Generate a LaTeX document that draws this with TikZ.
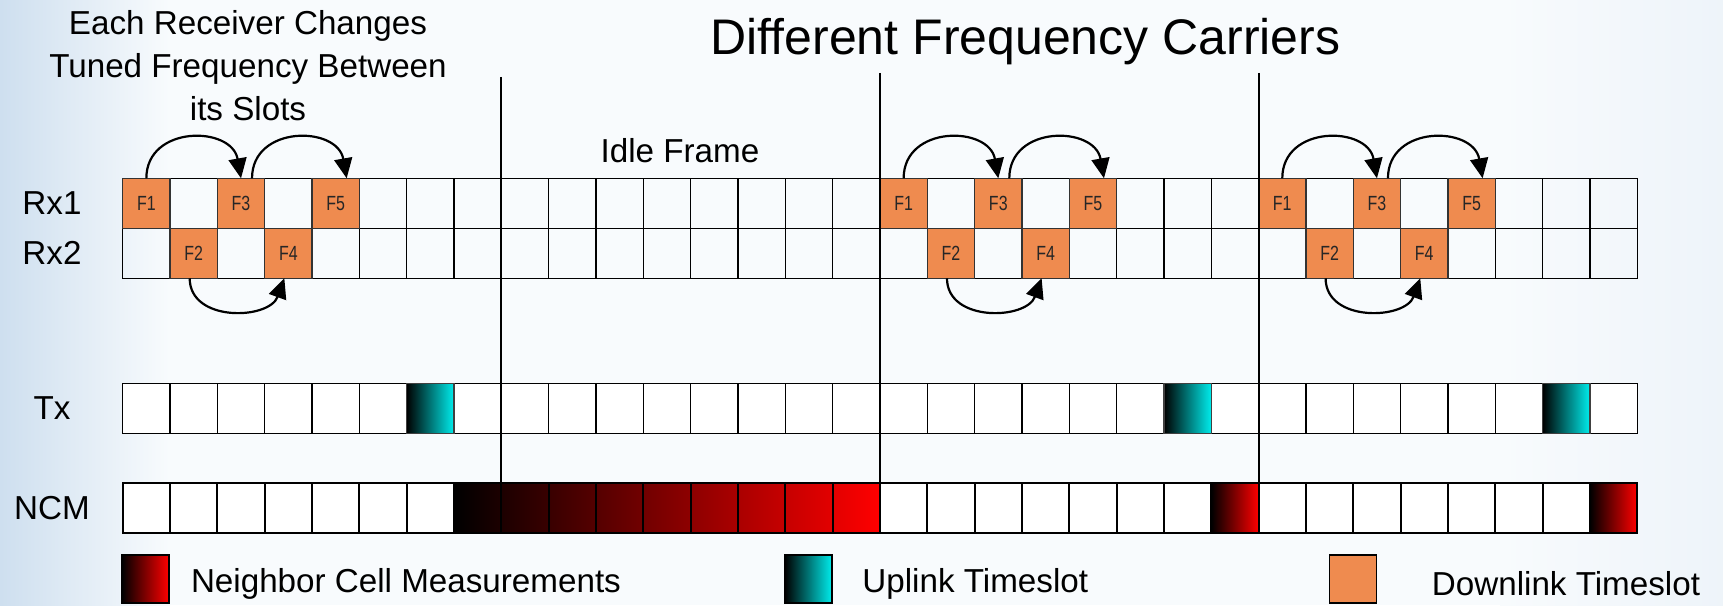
\documentclass[tikz,border=0pt]{standalone}
\usepackage{fontspec}
\setmainfont{Liberation Sans}
\newfontfamily\narrowsans[FakeStretch=0.78]{Liberation Sans}
\usetikzlibrary{positioning, arrows.meta, backgrounds}
\definecolor{dlorange}{RGB}{239,139,79}
\definecolor{ulcyan}{RGB}{0,236,236}
\definecolor{ncmred}{RGB}{255,0,0}
\definecolor{paper}{RGB}{248,251,253}
\definecolor{haze}{RGB}{206,223,239}
\pgfdeclarelayer{paperlayer}
\pgfsetlayers{paperlayer,background,main}
\tikzset{
  cell/.style ={draw, line width=0.65pt, minimum width=23.67pt, minimum height=25pt,
                inner sep=0pt, outer sep=0pt},
  dl/.style   ={cell, fill=dlorange, draw=black!80, text=black!85,
                font=\narrowsans\fontsize{10.25}{12}\selectfont},
  ul/.style   ={cell, left color=black, right color=ulcyan, draw=black!75},
  ncm/.style  ={cell, line width=1pt},
  key/.style  ={cell, minimum width=23.5pt, minimum height=24pt, line width=0.8pt},
  lbl/.style  ={font=\fontsize{16.6}{21.5}\selectfont, align=center, inner sep=0pt},
  hop/.style  ={-{Triangle[length=10pt, width=9pt]}, line width=1.1pt},
  sep/.style  ={line width=1pt},
}

\begin{document}
\begin{tikzpicture}[x=0.5pt, y=0.5pt]
  \useasboundingbox (0,0) rectangle (1723,605);
  \begin{pgfonlayer}{paperlayer}
    \fill[paper] (0,0) rectangle (1723,605);
    \shade[left color=haze, right color=paper] (0,0) rectangle (170,605);
    \shade[left color=paper, right color=haze!35] (1500,0) rectangle (1723,605);
  \end{pgfonlayer}

  % slot grid: 4 frames of 8 slots
  \foreach \i in {0,...,31}{
    \pgfmathsetmacro\cx{122.7+(\i+0.5)*47.33}
    \node[cell] (rxa-\i) at (\cx,401.7) {};
    \node[cell] (rxb-\i) at (\cx,351.7) {};
    \node[cell, fill=white] (tx-\i) at (\cx,196.7) {};
    \node[ncm] (ncm-\i) at (\cx,96.7) {};
  }
  \begin{scope}[on background layer]
    \fill[white] (ncm-0.south west) rectangle (ncm-31.north east);
    \shade[left color=black, right color=ncmred] (ncm-7.south west) rectangle (ncm-15.north east);
    \shade[left color=black, right color=ncmred] (ncm-23.south west) rectangle (ncm-23.north east);
    \shade[left color=black, right color=ncmred] (ncm-31.south west) rectangle (ncm-31.north east);
  \end{scope}

  % downlink hops and uplink slot per active frame
  \foreach \o in {0,16,24}{
    \pgfmathtruncatemacro\sb{\o+1}
    \pgfmathtruncatemacro\sc{\o+2}
    \pgfmathtruncatemacro\sd{\o+3}
    \pgfmathtruncatemacro\se{\o+4}
    \pgfmathtruncatemacro\sg{\o+6}
    \node[dl] (F1-\o) at (rxa-\o)  {F1};
    \node[dl] (F2-\o) at (rxb-\sb) {F2};
    \node[dl] (F3-\o) at (rxa-\sc) {F3};
    \node[dl] (F4-\o) at (rxb-\sd) {F4};
    \node[dl] (F5-\o) at (rxa-\se) {F5};
    \node[ul] (up-\o) at (tx-\sg) {};
    \draw[hop] (F1-\o.north) to[out=90, in=100, looseness=1.45] (F3-\o.north);
    \draw[hop] ([xshift=5.5pt]F3-\o.north) to[out=90, in=100, looseness=1.45] ([xshift=5.5pt]F5-\o.north);
    \draw[hop] ([xshift=-2pt]F2-\o.south) to[out=-90, in=-110, looseness=1.2] ([xshift=-2pt]F4-\o.south);
  }

  % frame boundaries
  \coordinate (top1) at (ncm-8.north west |- 0,528);
  \coordinate (top2) at (ncm-16.north west |- 0,532);
  \coordinate (top3) at (ncm-24.north west |- 0,532);
  \draw[sep] (top1) -- (ncm-8.north west);
  \draw[sep] (top2) -- (ncm-16.north west);
  \draw[sep] (top3) -- (ncm-24.north west);

  \node[lbl, font=\fontsize{25}{30}\selectfont, anchor=base] (title) at (1025.5,550) {Different Frequency Carriers};
  \node[lbl] (note) at (248,539.5) {Each Receiver Changes\\Tuned Frequency Between\\its Slots};
  \node[lbl, anchor=base] (idle) at (680,442) {Idle Frame};

  \node[lbl] (lrxa) at (52,401.7) {Rx1};
  \node[lbl] (lrxb) at (52,351.7) {Rx2};
  \node[lbl] (ltx)  at (52,196.7) {Tx};
  \node[lbl] (lncm) at (52,96.7)  {NCM};

  % legend
  \node[key, left color=black, right color=ncmred] (keyncm) at (145.5,26) {};
  \node[key, left color=black, right color=ulcyan] (keyul) at (808.5,26) {};
  \node[key, fill=dlorange] (keydl) at (1353,26) {};
  \node[lbl, right=10.8pt of keyncm, yshift=-2.5pt] (txtncm) {Neighbor Cell Measurements};
  \node[lbl, right=15pt of keyul, yshift=-2.5pt] (txtul) {Uplink Timeslot};
  \node[lbl, right=27.5pt of keydl, yshift=-2.5pt] (txtdl) {Downlink Timeslot};
\end{tikzpicture}
\end{document}
